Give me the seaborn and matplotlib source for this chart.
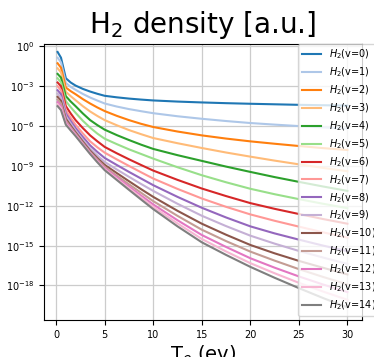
import numpy as np
import pandas as pd
import matplotlib
matplotlib.use("Agg")
import matplotlib.pyplot as plt
import seaborn as sns

# Electron temperature grid (eV)
te = [0.15, 0.5, 1.0, 1.5, 2.0, 2.75, 3.5, 4.25, 5.0, 6.25, 7.5, 8.75, 10.0,
      12.5, 15.0, 17.5, 20.0, 22.5, 25.0, 27.5, 30.0]

# log10 of the density for each vibrational level
log_v0 = [-0.42, -0.85, -2.40, -2.72, -2.95, -3.20, -3.40, -3.57, -3.72, -3.835, -3.93, -4.005, -4.07, -4.155, -4.22, -4.275, -4.32, -4.36, -4.40, -4.43, -4.46]
log_v1 = [-0.85, -1.20, -2.75, -3.05, -3.27, -3.58, -3.85, -4.08, -4.30, -4.53, -4.72, -4.88, -5.03, -5.26, -5.45, -5.62, -5.77, -5.89, -6.00, -6.10, -6.20]
log_v2 = [-1.27, -1.60, -3.10, -3.37, -3.60, -3.97, -4.30, -4.60, -4.87, -5.23, -5.55, -5.83, -6.07, -6.41, -6.70, -6.94, -7.15, -7.33, -7.50, -7.66, -7.80]
log_v3 = [-1.65, -1.95, -3.42, -3.75, -4.05, -4.50, -4.90, -5.24, -5.55, -5.94, -6.30, -6.61, -6.90, -7.29, -7.65, -7.99, -8.30, -8.60, -8.88, -9.15, -9.40]
log_v4 = [-2.07, -2.35, -3.75, -4.15, -4.50, -5.05, -5.55, -5.93, -6.27, -6.68, -7.05, -7.40, -7.72, -8.19, -8.62, -9.05, -9.45, -9.84, -10.20, -10.55, -10.88]
log_v5 = [-2.40, -2.70, -4.12, -4.58, -5.00, -5.60, -6.12, -6.57, -6.95, -7.36, -7.75, -8.10, -8.45, -9.10, -9.70, -10.23, -10.72, -11.13, -11.50, -11.85, -12.18]
log_v6 = [-2.72, -3.00, -4.50, -5.05, -5.55, -6.15, -6.70, -7.15, -7.57, -8.05, -8.50, -8.93, -9.35, -10.05, -10.70, -11.27, -11.80, -12.23, -12.62, -13.00, -13.35]
log_v7 = [-3.00, -3.30, -4.80, -5.38, -5.90, -6.55, -7.15, -7.60, -8.00, -8.51, -9.00, -9.48, -9.95, -10.73, -11.45, -12.08, -12.65, -13.13, -13.57, -14.00, -14.40]
log_v8 = [-3.30, -3.60, -5.05, -5.62, -6.15, -6.82, -7.45, -7.95, -8.40, -8.93, -9.45, -9.95, -10.45, -11.33, -12.15, -12.88, -13.55, -14.08, -14.55, -15.00, -15.42]
log_v9 = [-3.55, -3.85, -5.25, -5.80, -6.33, -7.02, -7.68, -8.22, -8.70, -9.27, -9.82, -10.36, -10.88, -11.85, -12.75, -13.53, -14.25, -14.85, -15.40, -15.90, -16.38]
log_v10 = [-3.80, -4.10, -5.45, -5.97, -6.47, -7.17, -7.85, -8.41, -8.92, -9.54, -10.15, -10.75, -11.33, -12.38, -13.35, -14.18, -14.95, -15.58, -16.15, -16.67, -17.17]
log_v11 = [-4.00, -4.30, -5.60, -6.09, -6.57, -7.27, -7.95, -8.53, -9.07, -9.73, -10.38, -11.02, -11.65, -12.76, -13.80, -14.66, -15.45, -16.13, -16.77, -17.36, -17.92]
log_v12 = [-4.20, -4.50, -5.72, -6.18, -6.64, -7.34, -8.02, -8.62, -9.17, -9.86, -10.55, -11.23, -11.90, -13.09, -14.20, -15.10, -15.95, -16.66, -17.32, -17.93, -18.50]
log_v13 = [-4.35, -4.65, -5.82, -6.26, -6.70, -7.39, -8.07, -8.68, -9.25, -9.97, -10.68, -11.38, -12.08, -13.33, -14.50, -15.44, -16.32, -17.08, -17.80, -18.46, -19.08]
log_v14 = [-4.50, -4.80, -5.90, -6.33, -6.75, -7.43, -8.10, -8.73, -9.32, -10.06, -10.80, -11.53, -12.25, -13.55, -14.75, -15.70, -16.60, -17.42, -18.20, -18.95, -19.65]

series = [log_v0, log_v1, log_v2, log_v3, log_v4, log_v5, log_v6, log_v7,
          log_v8, log_v9, log_v10, log_v11, log_v12, log_v13, log_v14]
labels = [f"$H_2$(v={i})" for i in range(len(series))]

rows = []
for lab, vals in zip(labels, series):
    for x, lv in zip(te, vals):
        rows.append({"Te": x, "density": 10.0 ** lv, "level": lab})
df = pd.DataFrame(rows)

palette = sns.color_palette("tab20", 20)[:len(series)]

fig = plt.figure(figsize=(3.74, 3.57), dpi=100)
ax = fig.add_axes([44 / 374, 1 - 320 / 357, (362 - 44) / 374, (320 - 44) / 357])

sns.lineplot(data=df, x="Te", y="density", hue="level", hue_order=labels,
             palette=palette, linewidth=1.5, ax=ax)

ax.set_yscale("log")
ax.set_xlim(-1.25, 31.5)
ax.set_ylim(10 ** -20.6, 10 ** 0.18)
ax.set_yticks([10.0 ** k for k in range(0, -19, -3)])
ax.yaxis.set_minor_locator(matplotlib.ticker.NullLocator())
ax.set_xticks([0, 5, 10, 15, 20, 25, 30])
ax.tick_params(labelsize=7)
ax.grid(True, color="#cccccc", linewidth=0.9)
ax.set_axisbelow(True)

ax.set_title("H$_2$ density [a.u.]", fontsize=20, pad=8)
ax.set_xlabel("T$_e$ (ev)", fontsize=14, labelpad=3)
ax.set_ylabel("")

sns.move_legend(ax, "upper left", bbox_to_anchor=(0.798, 1.0), borderaxespad=0,
                title=None, fontsize=7, labelspacing=0.44, frameon=True)

fig.savefig("out.png", dpi=100)
